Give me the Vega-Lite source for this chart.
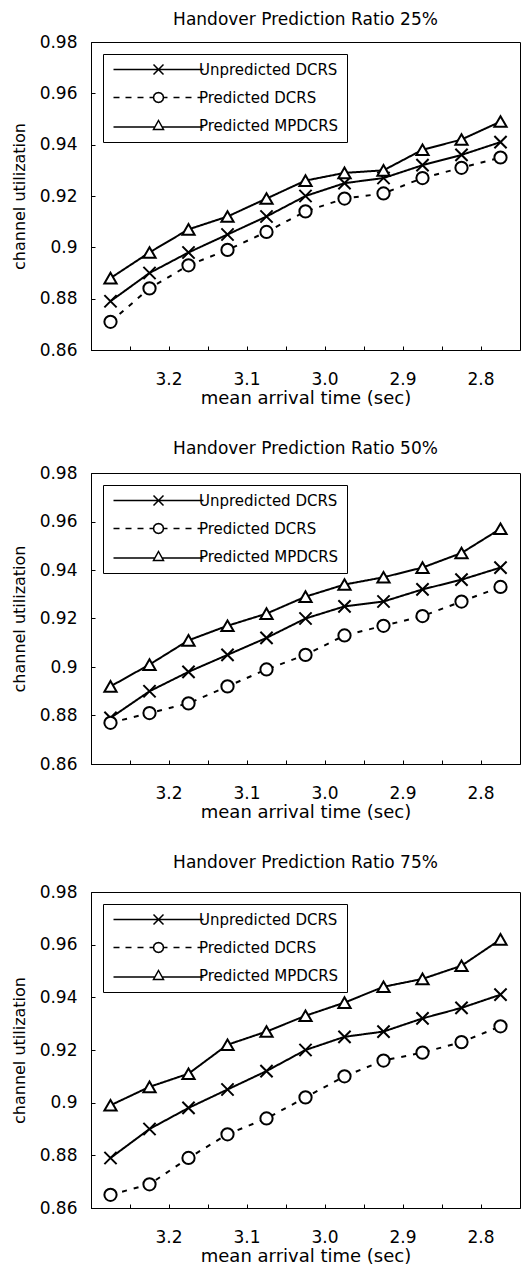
{
  "$schema": "https://vega.github.io/schema/vega-lite/v6.json",
  "padding": {"left": 10, "top": 10, "right": 0, "bottom": 0},
  "background": "white",
  "datasets": {
    "util": [
      {"ratio": 25, "series": "Unpredicted DCRS", "t": 3.25, "u": 0.879},
      {"ratio": 25, "series": "Unpredicted DCRS", "t": 3.2, "u": 0.890},
      {"ratio": 25, "series": "Unpredicted DCRS", "t": 3.15, "u": 0.898},
      {"ratio": 25, "series": "Unpredicted DCRS", "t": 3.1, "u": 0.905},
      {"ratio": 25, "series": "Unpredicted DCRS", "t": 3.05, "u": 0.912},
      {"ratio": 25, "series": "Unpredicted DCRS", "t": 3.0, "u": 0.920},
      {"ratio": 25, "series": "Unpredicted DCRS", "t": 2.95, "u": 0.925},
      {"ratio": 25, "series": "Unpredicted DCRS", "t": 2.9, "u": 0.927},
      {"ratio": 25, "series": "Unpredicted DCRS", "t": 2.85, "u": 0.932},
      {"ratio": 25, "series": "Unpredicted DCRS", "t": 2.8, "u": 0.936},
      {"ratio": 25, "series": "Unpredicted DCRS", "t": 2.75, "u": 0.941},
      {"ratio": 25, "series": "Predicted DCRS", "t": 3.25, "u": 0.871},
      {"ratio": 25, "series": "Predicted DCRS", "t": 3.2, "u": 0.884},
      {"ratio": 25, "series": "Predicted DCRS", "t": 3.15, "u": 0.893},
      {"ratio": 25, "series": "Predicted DCRS", "t": 3.1, "u": 0.899},
      {"ratio": 25, "series": "Predicted DCRS", "t": 3.05, "u": 0.906},
      {"ratio": 25, "series": "Predicted DCRS", "t": 3.0, "u": 0.914},
      {"ratio": 25, "series": "Predicted DCRS", "t": 2.95, "u": 0.919},
      {"ratio": 25, "series": "Predicted DCRS", "t": 2.9, "u": 0.921},
      {"ratio": 25, "series": "Predicted DCRS", "t": 2.85, "u": 0.927},
      {"ratio": 25, "series": "Predicted DCRS", "t": 2.8, "u": 0.931},
      {"ratio": 25, "series": "Predicted DCRS", "t": 2.75, "u": 0.935},
      {"ratio": 25, "series": "Predicted MPDCRS", "t": 3.25, "u": 0.888},
      {"ratio": 25, "series": "Predicted MPDCRS", "t": 3.2, "u": 0.898},
      {"ratio": 25, "series": "Predicted MPDCRS", "t": 3.15, "u": 0.907},
      {"ratio": 25, "series": "Predicted MPDCRS", "t": 3.1, "u": 0.912},
      {"ratio": 25, "series": "Predicted MPDCRS", "t": 3.05, "u": 0.919},
      {"ratio": 25, "series": "Predicted MPDCRS", "t": 3.0, "u": 0.926},
      {"ratio": 25, "series": "Predicted MPDCRS", "t": 2.95, "u": 0.929},
      {"ratio": 25, "series": "Predicted MPDCRS", "t": 2.9, "u": 0.930},
      {"ratio": 25, "series": "Predicted MPDCRS", "t": 2.85, "u": 0.938},
      {"ratio": 25, "series": "Predicted MPDCRS", "t": 2.8, "u": 0.942},
      {"ratio": 25, "series": "Predicted MPDCRS", "t": 2.75, "u": 0.949},
      {"ratio": 50, "series": "Unpredicted DCRS", "t": 3.25, "u": 0.879},
      {"ratio": 50, "series": "Unpredicted DCRS", "t": 3.2, "u": 0.890},
      {"ratio": 50, "series": "Unpredicted DCRS", "t": 3.15, "u": 0.898},
      {"ratio": 50, "series": "Unpredicted DCRS", "t": 3.1, "u": 0.905},
      {"ratio": 50, "series": "Unpredicted DCRS", "t": 3.05, "u": 0.912},
      {"ratio": 50, "series": "Unpredicted DCRS", "t": 3.0, "u": 0.920},
      {"ratio": 50, "series": "Unpredicted DCRS", "t": 2.95, "u": 0.925},
      {"ratio": 50, "series": "Unpredicted DCRS", "t": 2.9, "u": 0.927},
      {"ratio": 50, "series": "Unpredicted DCRS", "t": 2.85, "u": 0.932},
      {"ratio": 50, "series": "Unpredicted DCRS", "t": 2.8, "u": 0.936},
      {"ratio": 50, "series": "Unpredicted DCRS", "t": 2.75, "u": 0.941},
      {"ratio": 50, "series": "Predicted DCRS", "t": 3.25, "u": 0.877},
      {"ratio": 50, "series": "Predicted DCRS", "t": 3.2, "u": 0.881},
      {"ratio": 50, "series": "Predicted DCRS", "t": 3.15, "u": 0.885},
      {"ratio": 50, "series": "Predicted DCRS", "t": 3.1, "u": 0.892},
      {"ratio": 50, "series": "Predicted DCRS", "t": 3.05, "u": 0.899},
      {"ratio": 50, "series": "Predicted DCRS", "t": 3.0, "u": 0.905},
      {"ratio": 50, "series": "Predicted DCRS", "t": 2.95, "u": 0.913},
      {"ratio": 50, "series": "Predicted DCRS", "t": 2.9, "u": 0.917},
      {"ratio": 50, "series": "Predicted DCRS", "t": 2.85, "u": 0.921},
      {"ratio": 50, "series": "Predicted DCRS", "t": 2.8, "u": 0.927},
      {"ratio": 50, "series": "Predicted DCRS", "t": 2.75, "u": 0.933},
      {"ratio": 50, "series": "Predicted MPDCRS", "t": 3.25, "u": 0.892},
      {"ratio": 50, "series": "Predicted MPDCRS", "t": 3.2, "u": 0.901},
      {"ratio": 50, "series": "Predicted MPDCRS", "t": 3.15, "u": 0.911},
      {"ratio": 50, "series": "Predicted MPDCRS", "t": 3.1, "u": 0.917},
      {"ratio": 50, "series": "Predicted MPDCRS", "t": 3.05, "u": 0.922},
      {"ratio": 50, "series": "Predicted MPDCRS", "t": 3.0, "u": 0.929},
      {"ratio": 50, "series": "Predicted MPDCRS", "t": 2.95, "u": 0.934},
      {"ratio": 50, "series": "Predicted MPDCRS", "t": 2.9, "u": 0.937},
      {"ratio": 50, "series": "Predicted MPDCRS", "t": 2.85, "u": 0.941},
      {"ratio": 50, "series": "Predicted MPDCRS", "t": 2.8, "u": 0.947},
      {"ratio": 50, "series": "Predicted MPDCRS", "t": 2.75, "u": 0.957},
      {"ratio": 75, "series": "Unpredicted DCRS", "t": 3.25, "u": 0.879},
      {"ratio": 75, "series": "Unpredicted DCRS", "t": 3.2, "u": 0.890},
      {"ratio": 75, "series": "Unpredicted DCRS", "t": 3.15, "u": 0.898},
      {"ratio": 75, "series": "Unpredicted DCRS", "t": 3.1, "u": 0.905},
      {"ratio": 75, "series": "Unpredicted DCRS", "t": 3.05, "u": 0.912},
      {"ratio": 75, "series": "Unpredicted DCRS", "t": 3.0, "u": 0.920},
      {"ratio": 75, "series": "Unpredicted DCRS", "t": 2.95, "u": 0.925},
      {"ratio": 75, "series": "Unpredicted DCRS", "t": 2.9, "u": 0.927},
      {"ratio": 75, "series": "Unpredicted DCRS", "t": 2.85, "u": 0.932},
      {"ratio": 75, "series": "Unpredicted DCRS", "t": 2.8, "u": 0.936},
      {"ratio": 75, "series": "Unpredicted DCRS", "t": 2.75, "u": 0.941},
      {"ratio": 75, "series": "Predicted DCRS", "t": 3.25, "u": 0.865},
      {"ratio": 75, "series": "Predicted DCRS", "t": 3.2, "u": 0.869},
      {"ratio": 75, "series": "Predicted DCRS", "t": 3.15, "u": 0.879},
      {"ratio": 75, "series": "Predicted DCRS", "t": 3.1, "u": 0.888},
      {"ratio": 75, "series": "Predicted DCRS", "t": 3.05, "u": 0.894},
      {"ratio": 75, "series": "Predicted DCRS", "t": 3.0, "u": 0.902},
      {"ratio": 75, "series": "Predicted DCRS", "t": 2.95, "u": 0.910},
      {"ratio": 75, "series": "Predicted DCRS", "t": 2.9, "u": 0.916},
      {"ratio": 75, "series": "Predicted DCRS", "t": 2.85, "u": 0.919},
      {"ratio": 75, "series": "Predicted DCRS", "t": 2.8, "u": 0.923},
      {"ratio": 75, "series": "Predicted DCRS", "t": 2.75, "u": 0.929},
      {"ratio": 75, "series": "Predicted MPDCRS", "t": 3.25, "u": 0.899},
      {"ratio": 75, "series": "Predicted MPDCRS", "t": 3.2, "u": 0.906},
      {"ratio": 75, "series": "Predicted MPDCRS", "t": 3.15, "u": 0.911},
      {"ratio": 75, "series": "Predicted MPDCRS", "t": 3.1, "u": 0.922},
      {"ratio": 75, "series": "Predicted MPDCRS", "t": 3.05, "u": 0.927},
      {"ratio": 75, "series": "Predicted MPDCRS", "t": 3.0, "u": 0.933},
      {"ratio": 75, "series": "Predicted MPDCRS", "t": 2.95, "u": 0.938},
      {"ratio": 75, "series": "Predicted MPDCRS", "t": 2.9, "u": 0.944},
      {"ratio": 75, "series": "Predicted MPDCRS", "t": 2.85, "u": 0.947},
      {"ratio": 75, "series": "Predicted MPDCRS", "t": 2.8, "u": 0.952},
      {"ratio": 75, "series": "Predicted MPDCRS", "t": 2.75, "u": 0.962}
    ]
  },
  "data": {"name": "util"},
  "spacing": 31,
  "resolve": {"scale": {"shape": "independent", "strokeDash": "independent"}, "legend": {"shape": "independent"}},
  "vconcat": [
    {
      "width": 429, "height": 308,
      "title": {"text": "Handover Prediction Ratio 25%", "offset": 4},
      "transform": [{"filter": "datum.ratio == 25"}],
      "resolve": {"scale": {"shape": "independent"}},
      "layer": [
        {
          "mark": {"type": "line", "color": "black", "strokeWidth": 2},
          "encoding": {
            "x": {"field": "t", "type": "ordinal", "sort": "descending", "bandPosition": 0.5,
                  "scale": {"type": "band", "paddingInner": 0, "paddingOuter": 0},
                  "axis": {"title": "mean arrival time (sec)", "bandPosition": 0, "labelOffset": 19.5, "labelAngle": 0,
                           "labelExpr": "abs(datum.value*10 - round(datum.value*10)) < 0.01 ? format(datum.value, '.1f') : ''"}},
            "y": {"field": "u", "type": "quantitative", "scale": {"domain": [0.86, 0.98], "zero": false, "nice": false},
                  "axis": {"title": "channel utilization", "values": [0.86, 0.88, 0.9, 0.92, 0.94, 0.96, 0.98], "format": ".2~f"}},
            "strokeDash": {"field": "series", "type": "nominal", "legend": null,
                           "scale": {"domain": ["Unpredicted DCRS", "Predicted DCRS", "Predicted MPDCRS"], "range": [[1, 0], [5, 7], [1, 0]]}}
          }
        },
        {
          "mark": {"type": "point", "fill": "white", "stroke": "black", "strokeWidth": 2, "size": 150, "opacity": 1, "fillOpacity": 1},
          "encoding": {
            "x": {"field": "t", "type": "ordinal", "sort": "descending", "bandPosition": 0.5},
            "y": {"field": "u", "type": "quantitative"},
            "shape": {"field": "series", "type": "nominal", "legend": null,
                      "scale": {"domain": ["Unpredicted DCRS", "Predicted DCRS", "Predicted MPDCRS"], "range": ["M-1,-1L1,1M-1,1L1,-1", "circle", "triangle-up"]}}
          }
        },
        {
          "transform": [{"filter": "datum.u > 5"}],
          "mark": {"type": "point", "filled": false, "color": "black", "strokeWidth": 1.8, "size": 81, "opacity": 1},
          "encoding": {
            "x": {"field": "t", "type": "ordinal", "sort": "descending", "bandPosition": 0.5},
            "y": {"field": "u", "type": "quantitative"},
            "shape": {"field": "series", "type": "nominal",
                      "scale": {"domain": ["Unpredicted DCRS", "Predicted DCRS", "Predicted MPDCRS"],
                                "range": ["M-9,0L9,0M-1,-1L1,1M-1,1L1,-1", "M-9,0L-7.8,0M-6.6,0L-5.4,0M-4.2,0L-3,0M-1.8,0L-1.1,0M1.1,0L1.8,0M3,0L4.2,0M5.4,0L6.6,0M7.8,0L9,0M1,0L0.866,0.5L0.5,0.866L0,1L-0.5,0.866L-0.866,0.5L-1,0L-0.866,-0.5L-0.5,-0.866L0,-1L0.5,-0.866L0.866,-0.5Z", "M-9,0.3L-0.75,0.3M0.75,0.3L9,0.3M0,-1L1,0.8L-1,0.8Z"]},
                      "legend": {"title": null, "orient": "top-left", "offset": 12, "strokeColor": "black", "padding": 8, "rowPadding": 11,
                                 "symbolOffset": 40, "labelOffset": 33, "labelFontSize": 15}}
          }
        }
      ]
    },
    {
      "width": 429, "height": 291,
      "title": {"text": "Handover Prediction Ratio 50%", "offset": 6},
      "transform": [{"filter": "datum.ratio == 50"}],
      "resolve": {"scale": {"shape": "independent"}},
      "layer": [
        {
          "mark": {"type": "line", "color": "black", "strokeWidth": 2},
          "encoding": {
            "x": {"field": "t", "type": "ordinal", "sort": "descending", "bandPosition": 0.5,
                  "scale": {"type": "band", "paddingInner": 0, "paddingOuter": 0},
                  "axis": {"title": "mean arrival time (sec)", "bandPosition": 0, "labelOffset": 19.5, "labelAngle": 0,
                           "labelExpr": "abs(datum.value*10 - round(datum.value*10)) < 0.01 ? format(datum.value, '.1f') : ''"}},
            "y": {"field": "u", "type": "quantitative", "scale": {"domain": [0.86, 0.98], "zero": false, "nice": false},
                  "axis": {"title": "channel utilization", "values": [0.86, 0.88, 0.9, 0.92, 0.94, 0.96, 0.98], "format": ".2~f"}},
            "strokeDash": {"field": "series", "type": "nominal", "legend": null,
                           "scale": {"domain": ["Unpredicted DCRS", "Predicted DCRS", "Predicted MPDCRS"], "range": [[1, 0], [5, 7], [1, 0]]}}
          }
        },
        {
          "mark": {"type": "point", "fill": "white", "stroke": "black", "strokeWidth": 2, "size": 150, "opacity": 1, "fillOpacity": 1},
          "encoding": {
            "x": {"field": "t", "type": "ordinal", "sort": "descending", "bandPosition": 0.5},
            "y": {"field": "u", "type": "quantitative"},
            "shape": {"field": "series", "type": "nominal", "legend": null,
                      "scale": {"domain": ["Unpredicted DCRS", "Predicted DCRS", "Predicted MPDCRS"], "range": ["M-1,-1L1,1M-1,1L1,-1", "circle", "triangle-up"]}}
          }
        },
        {
          "transform": [{"filter": "datum.u > 5"}],
          "mark": {"type": "point", "filled": false, "color": "black", "strokeWidth": 1.8, "size": 81, "opacity": 1},
          "encoding": {
            "x": {"field": "t", "type": "ordinal", "sort": "descending", "bandPosition": 0.5},
            "y": {"field": "u", "type": "quantitative"},
            "shape": {"field": "series", "type": "nominal",
                      "scale": {"domain": ["Unpredicted DCRS", "Predicted DCRS", "Predicted MPDCRS"],
                                "range": ["M-9,0L9,0M-1,-1L1,1M-1,1L1,-1", "M-9,0L-7.8,0M-6.6,0L-5.4,0M-4.2,0L-3,0M-1.8,0L-1.1,0M1.1,0L1.8,0M3,0L4.2,0M5.4,0L6.6,0M7.8,0L9,0M1,0L0.866,0.5L0.5,0.866L0,1L-0.5,0.866L-0.866,0.5L-1,0L-0.866,-0.5L-0.5,-0.866L0,-1L0.5,-0.866L0.866,-0.5Z", "M-9,0.3L-0.75,0.3M0.75,0.3L9,0.3M0,-1L1,0.8L-1,0.8Z"]},
                      "legend": {"title": null, "orient": "top-left", "offset": 12, "strokeColor": "black", "padding": 8, "rowPadding": 11,
                                 "symbolOffset": 40, "labelOffset": 33, "labelFontSize": 15}}
          }
        }
      ]
    },
    {
      "width": 429, "height": 316,
      "title": {"text": "Handover Prediction Ratio 75%", "offset": 11},
      "transform": [{"filter": "datum.ratio == 75"}],
      "resolve": {"scale": {"shape": "independent"}},
      "layer": [
        {
          "mark": {"type": "line", "color": "black", "strokeWidth": 2},
          "encoding": {
            "x": {"field": "t", "type": "ordinal", "sort": "descending", "bandPosition": 0.5,
                  "scale": {"type": "band", "paddingInner": 0, "paddingOuter": 0},
                  "axis": {"title": "mean arrival time (sec)", "bandPosition": 0, "labelOffset": 19.5, "labelAngle": 0,
                           "labelExpr": "abs(datum.value*10 - round(datum.value*10)) < 0.01 ? format(datum.value, '.1f') : ''"}},
            "y": {"field": "u", "type": "quantitative", "scale": {"domain": [0.86, 0.98], "zero": false, "nice": false},
                  "axis": {"title": "channel utilization", "values": [0.86, 0.88, 0.9, 0.92, 0.94, 0.96, 0.98], "format": ".2~f"}},
            "strokeDash": {"field": "series", "type": "nominal", "legend": null,
                           "scale": {"domain": ["Unpredicted DCRS", "Predicted DCRS", "Predicted MPDCRS"], "range": [[1, 0], [5, 7], [1, 0]]}}
          }
        },
        {
          "mark": {"type": "point", "fill": "white", "stroke": "black", "strokeWidth": 2, "size": 150, "opacity": 1, "fillOpacity": 1},
          "encoding": {
            "x": {"field": "t", "type": "ordinal", "sort": "descending", "bandPosition": 0.5},
            "y": {"field": "u", "type": "quantitative"},
            "shape": {"field": "series", "type": "nominal", "legend": null,
                      "scale": {"domain": ["Unpredicted DCRS", "Predicted DCRS", "Predicted MPDCRS"], "range": ["M-1,-1L1,1M-1,1L1,-1", "circle", "triangle-up"]}}
          }
        },
        {
          "transform": [{"filter": "datum.u > 5"}],
          "mark": {"type": "point", "filled": false, "color": "black", "strokeWidth": 1.8, "size": 81, "opacity": 1},
          "encoding": {
            "x": {"field": "t", "type": "ordinal", "sort": "descending", "bandPosition": 0.5},
            "y": {"field": "u", "type": "quantitative"},
            "shape": {"field": "series", "type": "nominal",
                      "scale": {"domain": ["Unpredicted DCRS", "Predicted DCRS", "Predicted MPDCRS"],
                                "range": ["M-9,0L9,0M-1,-1L1,1M-1,1L1,-1", "M-9,0L-7.8,0M-6.6,0L-5.4,0M-4.2,0L-3,0M-1.8,0L-1.1,0M1.1,0L1.8,0M3,0L4.2,0M5.4,0L6.6,0M7.8,0L9,0M1,0L0.866,0.5L0.5,0.866L0,1L-0.5,0.866L-0.866,0.5L-1,0L-0.866,-0.5L-0.5,-0.866L0,-1L0.5,-0.866L0.866,-0.5Z", "M-9,0.3L-0.75,0.3M0.75,0.3L9,0.3M0,-1L1,0.8L-1,0.8Z"]},
                      "legend": {"title": null, "orient": "top-left", "offset": 12, "strokeColor": "black", "padding": 8, "rowPadding": 11,
                                 "symbolOffset": 40, "labelOffset": 33, "labelFontSize": 15}}
          }
        }
      ]
    }
  ],
  "config": {
    "font": "DejaVu Sans",
    "view": {"stroke": "black", "strokeWidth": 1},
    "title": {"font": "DejaVu Sans", "fontSize": 17, "fontWeight": "normal", "color": "black", "anchor": "middle"},
    "axis": {"grid": false, "domainColor": "black", "tickColor": "black", "labelColor": "black", "titleColor": "black",
             "labelFont": "DejaVu Sans", "titleFont": "DejaVu Sans", "labelFontSize": 17, "titleFontSize": 16, "titleFontWeight": "normal",
             "tickSize": -4, "domainWidth": 1},
    "axisX": {"labelPadding": 25, "titlePadding": 2, "titleFontSize": 18},
    "axisY": {"labelPadding": 18, "titlePadding": 12},
    "legend": {"labelFont": "DejaVu Sans", "labelColor": "black"}
  }
}
